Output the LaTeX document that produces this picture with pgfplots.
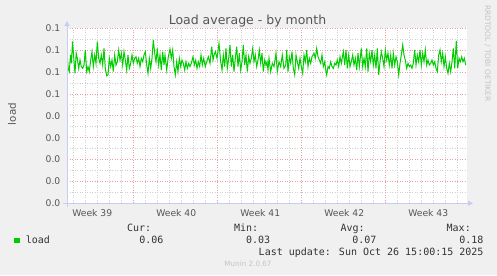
\documentclass[border=0pt]{standalone}
\usepackage{pgfplots}
\pgfplotsset{compat=1.18}
\usepackage{fontspec}
\setmainfont{DejaVu Sans}
\newfontfamily\monofont{DejaVu Sans Mono}
\usetikzlibrary{arrows.meta}
\definecolor{bg}{HTML}{F0F0F0}
\definecolor{txt}{HTML}{555555}
\definecolor{ltxt}{HTML}{333333}
\definecolor{mgrid}{HTML}{E8A0A0}
\definecolor{ngrid}{HTML}{D0D0D0}
\definecolor{axblue}{HTML}{C8CCF0}
\definecolor{loadgreen}{HTML}{00CC00}
\definecolor{faint}{HTML}{C4C4C4}
\begin{document}
\begin{tikzpicture}[x=1bp,y=1bp]
\fill[bg] (0,0) rectangle (497,275);
\begin{axis}[
  at={(67bp,71.7bp)}, anchor=south west,
  scale only axis, width=400bp, height=175bp,
  xmin=0, xmax=400, ymin=0, ymax=0.08,
  scaled y ticks=false, scaled x ticks=false,
  axis line style={draw=none},
  axis background/.style={fill=white},
  xtick={25.2,109.2,193.2,277.2,361.2},
  xticklabels={Week 39,Week 40,Week 41,Week 42,Week 43},
  ytick={0,0.01,0.02,0.03,0.04,0.05,0.06,0.07,0.08},
  yticklabels={0.0,0.0,0.0,0.0,0.0,0.1,0.1,0.1,0.1},
  minor xtick={6.3,18.3,30.3,42.3,54.3,66.3,78.3,90.3,102.3,114.3,126.3,138.3,150.3,162.3,174.3,186.3,198.3,210.3,222.3,234.3,246.3,258.3,270.3,282.3,294.3,306.3,318.3,330.3,342.3,354.3,366.3,378.3,390.3},
  minor ytick={0.005,0.015,0.025,0.035,0.045,0.055,0.065,0.075},
  major tick length=0pt, minor tick length=0pt,
  ymajorgrids, yminorgrids, xminorgrids,
  major grid style={mgrid, line width=0.8bp, dash pattern=on 1bp off 1.5bp},
  minor grid style={ngrid, line width=0.8bp, dash pattern=on 1bp off 1.5bp},
  extra x ticks={66.3,150.3,234.3,318.3},
  extra x tick labels={},
  extra x tick style={grid=major},
  tick label style={font=\fontsize{9.2bp}{11bp}\selectfont, text=txt},
  yticklabel style={anchor=east, inner sep=0pt, xshift=-6.5bp},
  xticklabel style={anchor=base, inner sep=0pt, yshift=-12.7bp},
]
\addplot[loadgreen, line width=1bp, no marks] coordinates {
(0,0.0693) (1.2,0.0617) (2.3,0.0602) (3.5,0.0678) (4.5,0.0640) (5.5,0.0740) (6.8,0.0663) (8,0.0594) (9.2,0.0686) (10.3,0.0663)
(11.7,0.0617) (13,0.0655) (14.3,0.0625) (15.7,0.0617) (17,0.0632) (18.3,0.0701) (19.7,0.0602) (21,0.0625) (22.3,0.0602) (23.7,0.0655)
(25,0.0693) (26.3,0.0625) (27.7,0.0678) (29,0.0640) (30.3,0.0739) (31.7,0.0663) (33,0.0640) (34.3,0.0678) (35.7,0.0632) (37,0.0708)
(38.3,0.0617) (39.7,0.0583) (41,0.0587) (42.3,0.0663) (43.7,0.0625) (45,0.0655) (46.3,0.0602) (47.7,0.0678) (49,0.0632) (50.3,0.0647)
(51.7,0.0701) (53,0.0655) (54.3,0.0686) (55.7,0.0632) (57,0.0693) (58.3,0.0655) (59.7,0.0609) (61,0.0678) (62.3,0.0617) (63.7,0.0640)
(65,0.0678) (66.3,0.0640) (67.7,0.0663) (69,0.0670) (70.3,0.0640) (71.7,0.0663) (73,0.0625) (74.3,0.0663) (75.7,0.0647) (77,0.0678)
(78.3,0.0693) (79.7,0.0632) (81,0.0594) (82.3,0.0663) (83.7,0.0617) (85,0.0663) (86.3,0.0747) (87.7,0.0686) (89,0.0647) (90.3,0.0708)
(91.7,0.0632) (93,0.0678) (94.3,0.0609) (95.7,0.0693) (97,0.0632)
(98.0,0.0678) (99.7,0.0609) (101.3,0.0670) (103.0,0.0705) (104.3,0.0663) (105.7,0.0701) (107.0,0.0625) (108.3,0.0587) (109.7,0.0647) (111.0,0.0602)
(112.3,0.0663) (113.7,0.0625) (115.0,0.0655) (116.3,0.0640) (117.7,0.0609) (119.0,0.0647) (120.3,0.0617) (121.7,0.0640) (123.0,0.0625) (124.3,0.0640)
(126.0,0.0670) (127.3,0.0632) (128.7,0.0655) (130.0,0.0617) (131.3,0.0647) (132.7,0.0625) (134.0,0.0678) (135.3,0.0632) (136.7,0.0663) (138.3,0.0625)
(139.7,0.0647) (141.3,0.0670) (143.0,0.0640) (144.7,0.0716) (146.0,0.0655) (147.0,0.0678) (148.3,0.0693) (150.0,0.0663) (152.0,0.0731) (153.7,0.0647)
(155.0,0.0609) (156.3,0.0678) (157.7,0.0625) (159.0,0.0708) (160.3,0.0617) (161.7,0.0663) (163.0,0.0724) (164.3,0.0625) (165.7,0.0678) (167.0,0.0602)
(168.3,0.0663) (169.7,0.0716) (171.0,0.0625) (172.3,0.0686) (173.7,0.0609) (175.0,0.0647) (176.3,0.0724) (177.7,0.0632) (179.0,0.0678) (180.3,0.0602)
(181.7,0.0670) (183.0,0.0640) (184.3,0.0663) (185.7,0.0708) (187.0,0.0647) (188.3,0.0678) (189.7,0.0625) (191.0,0.0655) (192.3,0.0701) (193.7,0.0640)
(195.0,0.0686) (196.3,0.0602) (197.7,0.0655) (199.0,0.0632) (200.0,0.0647)
(201.0,0.0609) (202.0,0.0663) (203.7,0.0602) (205.3,0.0640) (207.0,0.0625) (209.0,0.0686) (210.3,0.0602) (212.0,0.0647) (213.7,0.0625) (215.3,0.0678)
(217.0,0.0617) (218.7,0.0632) (219.7,0.0701) (221.0,0.0602) (222.3,0.0670) (223.7,0.0640) (225.0,0.0693) (226.3,0.0617) (227.7,0.0587) (229.0,0.0678)
(230.3,0.0647) (231.7,0.0617) (233.0,0.0663) (234.3,0.0625) (235.7,0.0594) (237.0,0.0678) (238.3,0.0647) (239.7,0.0701) (241.0,0.0625) (242.3,0.0663)
(243.7,0.0640) (245.0,0.0670) (247.0,0.0686) (248.3,0.0663) (249.7,0.0708) (251.0,0.0670) (252.3,0.0655) (253.7,0.0640) (255.0,0.0678) (256.3,0.0625)
(257.7,0.0647) (259.0,0.0602) (259.7,0.0587) (261.0,0.0625) (262.3,0.0617) (263.7,0.0647) (265.0,0.0625) (266.3,0.0617) (267.7,0.0640) (269.0,0.0632)
(270.3,0.0655) (271.7,0.0625) (273.0,0.0670) (274.3,0.0640) (276.3,0.0693) (277.7,0.0632) (279.0,0.0701) (280.3,0.0617) (281.7,0.0678) (283.0,0.0625)
(284.3,0.0647) (285.7,0.0678) (287.0,0.0632) (288.3,0.0663) (289.7,0.0609) (291.0,0.0686) (292.3,0.0625) (294.3,0.0708) (295.7,0.0625) (297.0,0.0663)
(298.3,0.0625) (299.7,0.0708) (301.0,0.0602) (302.3,0.0686) (303.7,0.0647) (305.0,0.0701) (306.3,0.0632) (307.7,0.0678) (309.0,0.0617) (310.3,0.0708)
(311.7,0.0587) (313.0,0.0647) (314.3,0.0693) (315.7,0.0663) (317.0,0.0625) (318.3,0.0701) (319.7,0.0655) (321.0,0.0686) (322.3,0.0632) (323.7,0.0678)
(325.0,0.0617) (326.3,0.0686) (327.7,0.0632) (329.0,0.0670) (330.3,0.0647) (331.7,0.0587) (333.0,0.0640) (334.3,0.0678) (335.7,0.0724) (337.0,0.0678)
(338.3,0.0655) (339.7,0.0617) (341.0,0.0640) (342.3,0.0625) (343.7,0.0632) (345.0,0.0617) (346.3,0.0640) (347.7,0.0701) (349.0,0.0632) (350.3,0.0678)
(351.7,0.0647) (353.0,0.0701) (354.3,0.0632) (355.7,0.0686) (357.0,0.0647) (358.3,0.0701) (359.7,0.0632) (361.0,0.0655) (362.3,0.0632) (363.7,0.0640)
(365.0,0.0655) (366.3,0.0632) (367.7,0.0647) (369.0,0.0617) (370.3,0.0602) (371.7,0.0678) (373.0,0.0701) (374.3,0.0647) (375.7,0.0686) (377.0,0.0625)
(378.3,0.0670) (379.7,0.0617) (381.0,0.0594) (382.3,0.0640) (383.7,0.0602) (385.0,0.0647) (386.3,0.0708) (387.7,0.0617) (389.3,0.0742) (390.7,0.0617)
(392.0,0.0663) (393.3,0.0647) (394.7,0.0670) (396.0,0.0647) (397.3,0.0663) (398.7,0.0632)
};
\end{axis}
\draw[axblue, line width=1bp, -{Triangle[length=5bp,width=5bp]}] (63,71.7) -- (473,71.7);
\draw[axblue, line width=1bp, -{Triangle[length=5bp,width=5bp]}] (67,68) -- (67,254);
\node[anchor=base, inner sep=0pt, font=\fontsize{12.5bp}{14bp}\selectfont, text=txt] at (247.5,251) {Load average - by month};
\node[rotate=90, inner sep=0pt, font=\fontsize{10.3bp}{12bp}\selectfont, text=txt] at (12,161) {load};
\node[rotate=-90, anchor=base west, inner sep=0pt, font=\fontsize{7.5bp}{9bp}\selectfont, text=faint] at (485,270) {RRDTOOL / TOBI OETIKER};
\begin{scope}[every node/.style={inner sep=0pt, font=\monofont\fontsize{10bp}{12bp}\selectfont, text=ltxt}]
\node[anchor=base west] at (126.9,44) {Cur:};
\node[anchor=base west] at (233.8,44) {Min:};
\node[anchor=base west] at (340.3,44) {Avg:};
\node[anchor=base west] at (446.5,44) {Max:};
\node[anchor=base west] at (25.7,31.7) {load};
\node[anchor=base east] at (163.7,31.7) {0.06};
\node[anchor=base east] at (270.3,31.7) {0.03};
\node[anchor=base east] at (376.7,31.7) {0.07};
\node[anchor=base east] at (483.7,31.7) {0.18};
\node[anchor=base east] at (483.7,20) {Last update: Sun Oct 26 15:00:15 2025};
\end{scope}
\fill[loadgreen] (14,31.7) rectangle (20,37.3);
\node[anchor=base, inner sep=0pt, font=\fontsize{7.2bp}{9bp}\selectfont, text=faint] at (248,8.3) {Munin 2.0.67};
\end{tikzpicture}
\end{document}
